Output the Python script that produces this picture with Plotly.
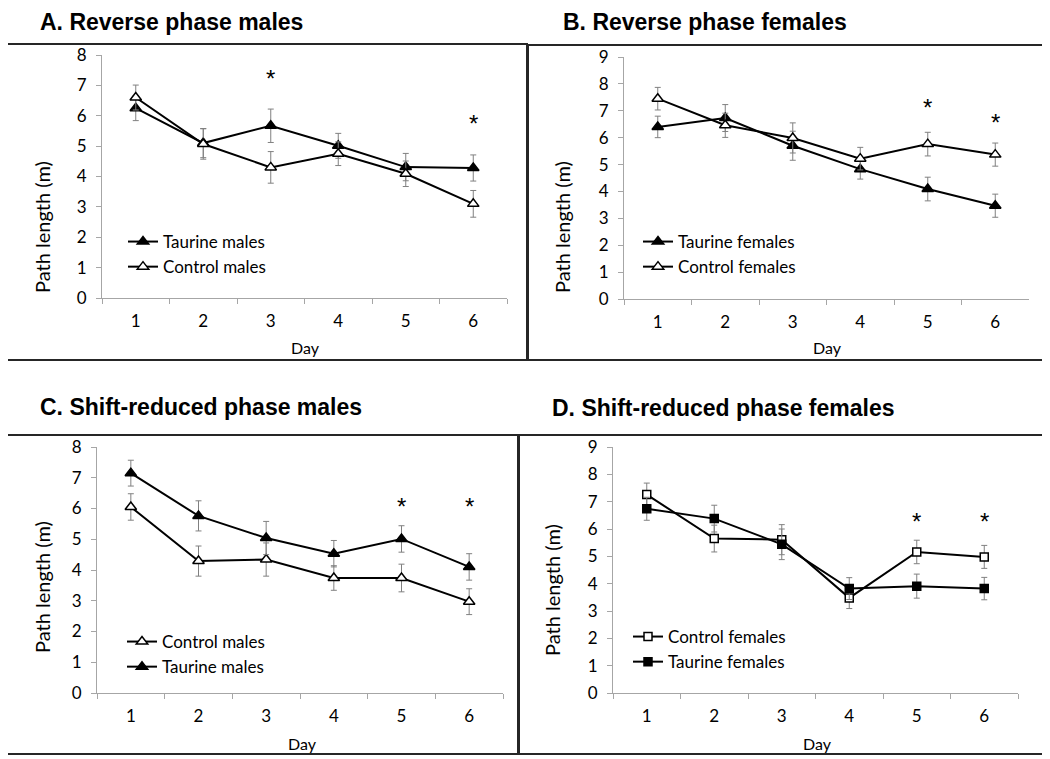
import plotly.graph_objects as go

W, H = 1050, 759

days = ["1", "2", "3", "4", "5", "6"]

# A. Reverse phase males
a_taurine = [6.25, 5.10, 5.67, 5.01, 4.31, 4.28]
a_taurine_err = [0.41, 0.48, 0.55, 0.41, 0.45, 0.43]
a_control = [6.60, 5.07, 4.30, 4.75, 4.09, 3.10]
a_control_err = [0.41, 0.50, 0.52, 0.39, 0.42, 0.44]
a_sig_days = [3, 6]
a_sig_y = [7.23, 5.73]

# B. Reverse phase females
b_taurine = [6.40, 6.73, 5.70, 4.83, 4.09, 3.47]
b_taurine_err = [0.40, 0.50, 0.54, 0.37, 0.44, 0.43]
b_control = [7.45, 6.46, 5.99, 5.22, 5.76, 5.37]
b_control_err = [0.42, 0.45, 0.56, 0.42, 0.44, 0.43]
b_sig_days = [5, 6]
b_sig_y = [7.14, 6.55]

# C. Shift-reduced phase males
c_control = [6.05, 4.29, 4.34, 3.74, 3.74, 2.97]
c_control_err = [0.43, 0.49, 0.54, 0.40, 0.45, 0.42]
c_taurine = [7.15, 5.76, 5.04, 4.53, 5.01, 4.10]
c_taurine_err = [0.42, 0.49, 0.54, 0.43, 0.43, 0.43]
c_sig_days = [5, 6]
c_sig_y = [6.05, 6.05]

# D. Shift-reduced phase females
d_control = [7.26, 5.65, 5.61, 3.48, 5.16, 4.98]
d_control_err = [0.42, 0.49, 0.55, 0.39, 0.43, 0.42]
d_taurine = [6.74, 6.38, 5.44, 3.82, 3.91, 3.82]
d_taurine_err = [0.42, 0.49, 0.56, 0.40, 0.44, 0.41]
d_sig_days = [5, 6]
d_sig_y = [6.29, 6.29]

# the page body adds ~8px before the figure, so pixel positions are shifted back
OFFSET = 8


def px(x):
    return (x - OFFSET) / W


def py(y):
    return 1 - (y - OFFSET) / H


AXIS_GREY = "#a6a6a6"
ERR_GREY = "#808080"
TICK_FONT = dict(family="Lato, Open Sans, sans-serif", size=17, color="black")
LABEL_FONT = dict(family="Lato, Open Sans, sans-serif", size=17, color="black")


def series(name, x_ax, y_ax, y, err, symbol, filled, legend, size=10):
    return go.Scatter(
        x=days, y=y, name=name, mode="lines+markers",
        xaxis=x_ax, yaxis=y_ax, legend=legend,
        line=dict(color="black", width=2),
        marker=dict(symbol=symbol, size=size,
                    color="black" if filled else "white",
                    line=dict(color="black", width=1.5)),
        error_y=dict(type="data", array=err, color=ERR_GREY,
                     thickness=1, width=3),
    )


fig = go.Figure()

fig.add_trace(series("Taurine males", "x", "y", a_taurine, a_taurine_err, "triangle-up", True, "legend"))
fig.add_trace(series("Control males", "x", "y", a_control, a_control_err, "triangle-up", False, "legend"))

fig.add_trace(series("Taurine females", "x2", "y2", b_taurine, b_taurine_err, "triangle-up", True, "legend2"))
fig.add_trace(series("Control females", "x2", "y2", b_control, b_control_err, "triangle-up", False, "legend2"))

fig.add_trace(series("Control males", "x3", "y3", c_control, c_control_err, "triangle-up", False, "legend3"))
fig.add_trace(series("Taurine males", "x3", "y3", c_taurine, c_taurine_err, "triangle-up", True, "legend3"))

fig.add_trace(series("Control females", "x4", "y4", d_control, d_control_err, "square", False, "legend4", size=8))
fig.add_trace(series("Taurine females", "x4", "y4", d_taurine, d_taurine_err, "square", True, "legend4", size=8))

# plot areas in pixels: (x0, x1, y_top, y_bottom, ymax)
panels = [
    (102, 507, 55, 298, 8),
    (624, 1029, 57, 299, 9),
    (97, 503, 447, 693, 8),
    (613, 1018, 447, 693, 9),
]

layout = {}
for i, (x0, x1, yt, yb, ymax) in enumerate(panels):
    s = "" if i == 0 else str(i + 1)
    layout["xaxis" + s] = dict(
        domain=[px(x0), px(x1)], anchor="y" + s, type="category",
        range=[-0.5, 5.5],
        tickson="boundaries", ticks="outside", ticklen=5, tickcolor=AXIS_GREY,
        showline=True, linecolor=AXIS_GREY, linewidth=1, showgrid=False,
        tickfont=TICK_FONT, ticklabelstandoff=8,
    )
    layout["yaxis" + s] = dict(
        domain=[py(yb), py(yt)], anchor="x" + s, range=[0, ymax], dtick=1,
        ticks="outside", ticklen=5, tickcolor=AXIS_GREY,
        showline=True, linecolor=AXIS_GREY, linewidth=1, showgrid=False,
        zeroline=False, tickfont=TICK_FONT, ticklabelstandoff=6,
    )

annotations = []

titles = [
    ("A. Reverse phase males", 38, 22),
    ("B. Reverse phase females", 561, 22),
    ("C. Shift-reduced phase males", 38, 407),
    ("D. Shift-reduced phase females", 550, 408),
]
for text, x, y in titles:
    annotations.append(dict(
        text="<b>" + text + "</b>", x=px(x), y=py(y), xref="paper", yref="paper",
        xanchor="left", yanchor="middle", showarrow=False,
        font=dict(family="Liberation Sans, Arial, sans-serif", size=23, color="black"),
    ))

y_titles = [(42, 227), (562, 227), (42, 587), (552, 590)]
for x, y in y_titles:
    annotations.append(dict(
        text="Path length (m)", x=px(x), y=py(y), xref="paper", yref="paper",
        textangle=-90, showarrow=False,
        font=dict(family="Lato, Open Sans, sans-serif", size=20, color="black"),
        xanchor="center", yanchor="middle",
    ))

x_titles = [(305, 348), (827, 348), (302, 743), (817, 743)]
for x, y in x_titles:
    annotations.append(dict(
        text="Day", x=px(x), y=py(y), xref="paper", yref="paper",
        showarrow=False, font=dict(family="Lato, Open Sans, sans-serif", size=16, color="black"),
        xanchor="center", yanchor="middle",
    ))

sig = [("x", "y", a_sig_days, a_sig_y), ("x2", "y2", b_sig_days, b_sig_y),
       ("x3", "y3", c_sig_days, c_sig_y), ("x4", "y4", d_sig_days, d_sig_y)]
for xr, yr, sd, sy in sig:
    for d, v in zip(sd, sy):
        annotations.append(dict(
            text="*", x=d - 1, y=v, xref=xr, yref=yr, showarrow=False,
            font=dict(family="Liberation Sans, Arial, sans-serif", size=24, color="black"),
            xanchor="center", yanchor="middle",
        ))

# panel frames
boxes = [(7, 527, 44, 360), (528, 1044, 45, 360), (7, 518, 435, 754), (519, 1044, 435, 754)]
shapes = []
for x0, x1, y0, y1 in boxes:
    shapes.append(dict(
        type="rect", xref="paper", yref="paper",
        x0=px(x0), x1=px(x1), y0=py(y1), y1=py(y0),
        line=dict(color="#262626", width=2),
    ))

legend_pos = [(163, 238), (678, 238), (162, 638), (668, 633)]
for i, (x, y) in enumerate(legend_pos):
    key = "legend" if i == 0 else "legend" + str(i + 1)
    layout[key] = dict(
        x=px(x - 40), y=py(y - 14), xanchor="left", yanchor="top",
        bgcolor="rgba(0,0,0,0)", font=LABEL_FONT, tracegroupgap=0,
        itemclick=False,
    )

fig.update_layout(
    width=W, height=H,
    margin=dict(l=0, r=0, t=0, b=0, autoexpand=False),
    paper_bgcolor="white", plot_bgcolor="white",
    showlegend=True,
    annotations=annotations,
    shapes=shapes,
    **layout,
)

fig.write_html("out.html")
